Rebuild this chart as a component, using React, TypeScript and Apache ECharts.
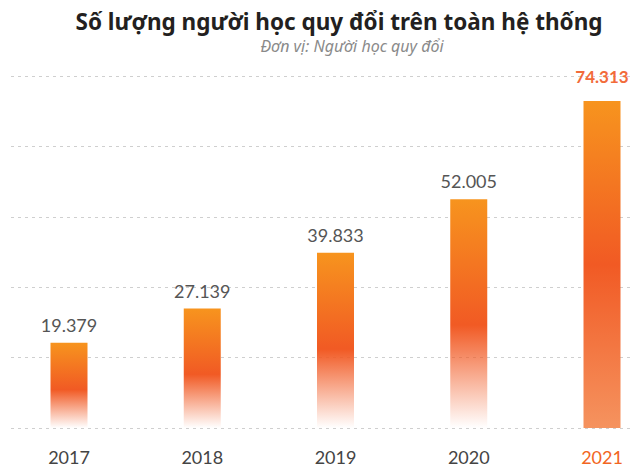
import React, { useEffect, useRef } from "react";
import * as echarts from "echarts";

const years = ["2017", "2018", "2019", "2020", "2021"];
const learners = [19379, 27139, 39833, 52005, 74313];
const titleText = "Số lượng người học quy đổi trên toàn hệ thống";
const subtitleText = "Đơn vị: Người học quy đổi";

const fmt = (v: number) => v.toLocaleString("de-DE");

export default function App() {
  const ref = useRef<HTMLDivElement>(null);
  useEffect(() => {
    if (!ref.current) return;
    const chart = echarts.init(ref.current, null, { renderer: "svg" });
    const last = years.length - 1;
    const fadeGrad = new echarts.graphic.LinearGradient(0, 0, 0, 1, [
      { offset: 0, color: "#F7941E" },
      { offset: 0.55, color: "#F15A24" },
      { offset: 1, color: "rgba(241,90,36,0)" },
    ]);
    const fullGrad = new echarts.graphic.LinearGradient(0, 0, 0, 1, [
      { offset: 0, color: "#F7941E" },
      { offset: 0.5, color: "#F15A24" },
      { offset: 1, color: "#F5935F" },
    ]);
    chart.setOption({
      animation: false,
      backgroundColor: "#ffffff",
      title: [
        {
          text: titleText,
          left: 334,
          textAlign: "center",
          top: 5,
          textStyle: {
            fontFamily: "Noto Sans",
            fontWeight: "bold",
            fontSize: 22.5,
            color: "#231F20",
          },
        },
        {
          text: subtitleText,
          left: 347,
          textAlign: "center",
          top: 33,
          textStyle: {
            fontFamily: "Noto Sans",
            fontStyle: "italic",
            fontWeight: "normal",
            fontSize: 16,
            color: "#8a8a8a",
          },
        },
      ],
      grid: [
        { left: 11, right: 5, top: 76, bottom: 40 },
        { left: 69, right: 33, top: 76, bottom: 40 },
      ],
      xAxis: [
        { type: "category", gridIndex: 0, data: years, show: false },
        {
          type: "category",
          gridIndex: 1,
          data: years,
          boundaryGap: false,
          axisLine: { show: false },
          axisTick: { show: false },
          axisLabel: {
            margin: 20,
            fontFamily: "Lato",
            fontSize: 18,
            color: "#444444",
            formatter: (v: string) => (v === years[last] ? "{hl|" + v + "}" : v),
            rich: { hl: { fontFamily: "Lato", fontSize: 18, color: "#F26522" } },
          },
        },
      ],
      yAxis: [
        {
          type: "value",
          gridIndex: 0,
          min: 0,
          max: 80000,
          interval: 16000,
          axisLabel: { show: false },
          axisLine: { show: false },
          axisTick: { show: false },
          splitLine: {
            show: true,
            lineStyle: { color: "#cfcfcf", type: [3, 4], width: 1 },
          },
        },
        {
          type: "value",
          gridIndex: 1,
          min: 0,
          max: 80000,
          interval: 16000,
          show: false,
          splitLine: { show: false },
        },
      ],
      series: [
        {
          type: "bar",
          xAxisIndex: 1,
          yAxisIndex: 1,
          barWidth: 37,
          clip: false,
          data: learners.map((v, i) => ({
            value: v,
            itemStyle: { color: i === last ? fullGrad : fadeGrad },
            label:
              i === last
                ? {
                    show: true,
                    position: "top",
                    distance: 16,
                    formatter: (p: any) => fmt(p.value),
                    fontFamily: "Lato",
                    fontWeight: "bold",
                    fontSize: 17,
                    color: "#F26B3A",
                  }
                : {
                    show: true,
                    position: "top",
                    distance: 9,
                    formatter: (p: any) => fmt(p.value),
                    fontFamily: "Lato",
                    fontSize: 18,
                    color: "#555555",
                  },
          })),
        },
      ],
    });
    return () => chart.dispose();
  }, []);
  return (
    <div
      ref={ref}
      style={{ position: "fixed", left: 0, top: 0, width: 635, height: 468, background: "#fff" }}
    />
  );
}
